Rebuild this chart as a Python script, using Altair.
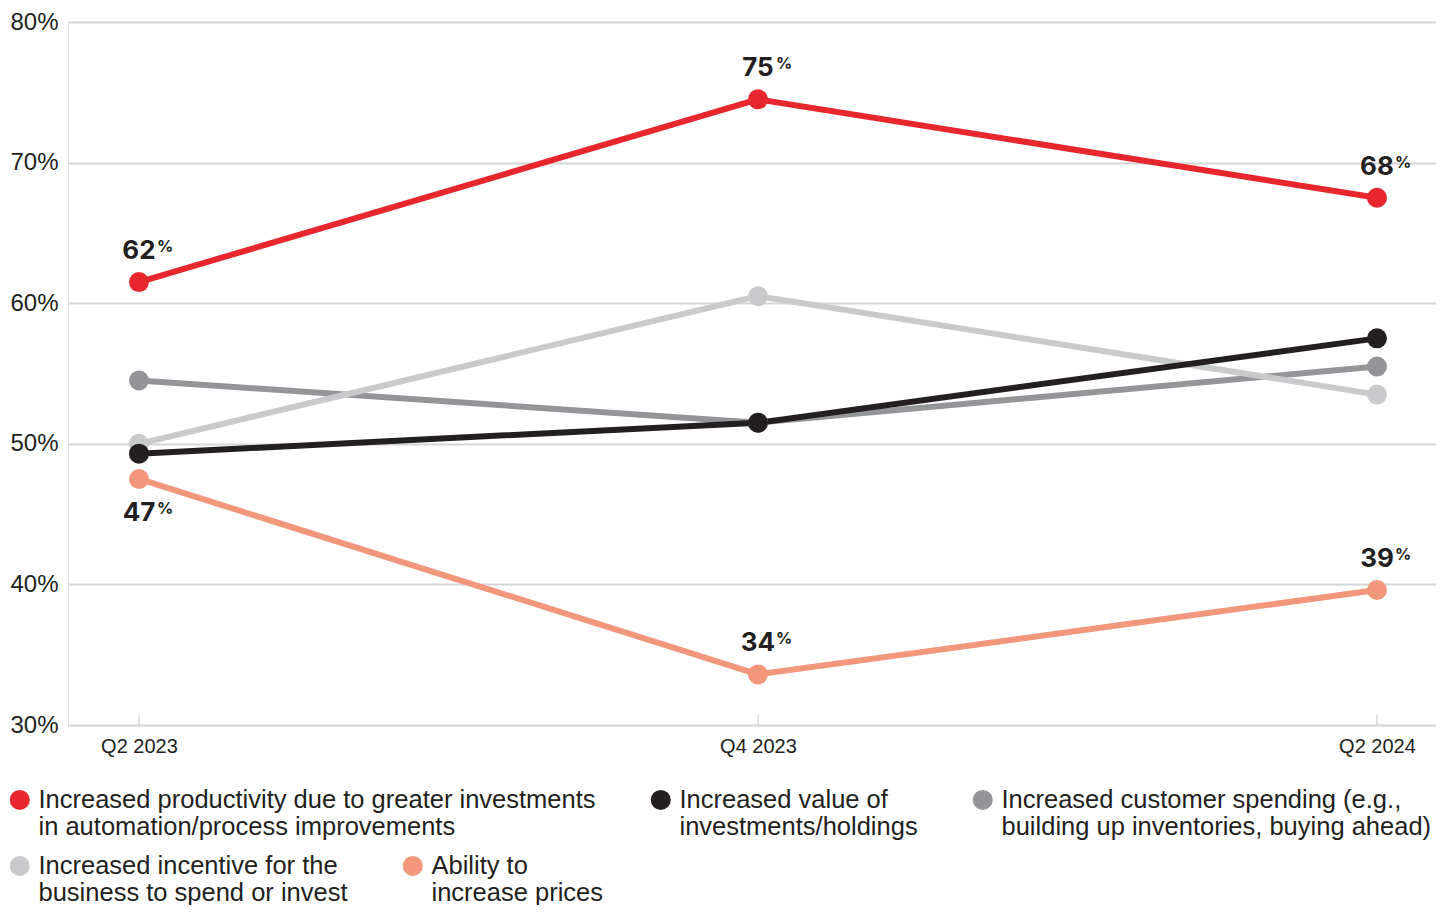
import altair as alt
import pandas as pd

quarters = ["Q2 2023", "Q4 2023", "Q2 2024"]

series = [
    "Increased productivity due to greater investments|in automation/process improvements",
    "Increased value of|investments/holdings",
    "Increased customer spending (e.g.,|building up inventories, buying ahead)",
    "Increased incentive for the|business to spend or invest",
    "Ability to|increase prices",
]
colors = ["#e8262d", "#231f20", "#939598", "#c9cacc", "#f2967c"]

productivity = [61.5, 74.5, 67.5]
value_holdings = [49.3, 51.5, 57.5]
customer_spending = [54.5, 51.5, 55.5]
incentive = [50.0, 60.5, 53.5]
prices = [47.5, 33.6, 39.6]

values_by_series = [productivity, value_holdings, customer_spending, incentive, prices]

# drawing order (back to front)
draw_order = [2, 3, 4, 1, 0]

# point labels
productivity_labels = ["62", "75", "68"]
prices_labels = ["47", "34", "39"]
prices_label_below = [True, False, False]

y_ticks = [30, 40, 50, 60, 70, 80]

rows = []
for i in draw_order:
    for q, v in zip(quarters, values_by_series[i]):
        rows.append({"series": series[i], "quarter": q, "value": v,
                     "rank": draw_order.index(i), "legend_row": 0 if i < 3 else 1})
df = pd.DataFrame(rows)

lab_rows = []
for q, v, t in zip(quarters, productivity, productivity_labels):
    lab_rows.append({"quarter": q, "value": v, "text": t, "below": False})
for q, v, t, b in zip(quarters, prices, prices_labels, prices_label_below):
    lab_rows.append({"quarter": q, "value": v, "text": t, "below": b})
lab = pd.DataFrame(lab_rows)

ticks_df = pd.DataFrame({"quarter": quarters})

FONT = "Liberation Sans"
NARROW = "Liberation Sans Narrow, Arial Narrow, Liberation Sans"

x_scale = alt.Scale(type="point", domain=quarters, padding=0.105, align=0.546)
x_enc = alt.X(
    "quarter:N",
    sort=quarters,
    scale=x_scale,
    axis=alt.Axis(
        title=None, labelAngle=0, labelAlign="center", labelBaseline="top",
        labelFont=FONT, labelFontSize=20, labelColor="#231f20",
        labelPadding=11, ticks=False, domain=False, grid=False,
    ),
)
y_scale = alt.Scale(domain=[30, 80], nice=False, zero=False)
y_enc = alt.Y(
    "value:Q",
    scale=y_scale,
    axis=alt.Axis(
        title=None, values=y_ticks, labelExpr="datum.value + '%'", labelFont=FONT,
        labelFontSize=24, labelColor="#231f20", labelPadding=10, ticks=False, domain=False,
        grid=True, gridColor="#d6d6d6", gridWidth=2,
    ),
)

base = alt.Chart(df)

tick_layer = alt.Chart(ticks_df).mark_rule(color="#d6d6d6", strokeWidth=1.5).encode(
    x=x_enc,
    y=alt.datum(30, scale=y_scale),
    y2=alt.datum(30.7),
)

line_layers = []
for i in draw_order:
    line_layers.append(
        base.transform_filter(alt.datum.series == series[i])
        .mark_line(strokeWidth=6, color=colors[i])
        .encode(x=x_enc, y=y_enc)
    )


def legend_at(y):
    return alt.Legend(
        title=None, orient="none", legendX=-61, legendY=y, direction="horizontal",
        labelExpr="split(datum.label, '|')",
        labelFont=NARROW, labelFontSize=25.5, labelColor="#231f20", labelLimit=1000,
        labelBaseline="middle", symbolType="circle", symbolSize=400, symbolStrokeWidth=0,
        symbolOpacity=1, columnPadding=52, labelOffset=6, padding=0,
    )


points_row1 = base.transform_filter("datum.legend_row == 0").mark_circle(size=400, opacity=1).encode(
    x=x_enc,
    y=y_enc,
    color=alt.Color("series:N", scale=alt.Scale(domain=series[:3], range=colors[:3]),
                    legend=legend_at(765)),
    order=alt.Order("rank:Q"),
)
points_row2 = base.transform_filter("datum.legend_row == 1").mark_circle(size=400, opacity=1).encode(
    x=x_enc,
    y=y_enc,
    color=alt.Color("series:N", scale=alt.Scale(domain=series[3:], range=colors[3:]),
                    legend=legend_at(831)),
    order=alt.Order("rank:Q"),
)

lab_base = alt.Chart(lab)
num_above = lab_base.transform_filter("!datum.below").mark_text(
    font="Inter, Liberation Sans", fontSize=26, fontWeight="bold", color="#231f20",
    align="center", baseline="alphabetic", dy=-23,
).encode(x=x_enc, y=y_enc, text="text:N")
pct_above = lab_base.transform_filter("!datum.below").mark_text(
    font="Inter, Liberation Sans", fontSize=16, fontWeight="bold", color="#231f20",
    align="left", baseline="alphabetic", dx=18, dy=-30, text="%",
).encode(x=x_enc, y=y_enc)
num_below = lab_base.transform_filter("datum.below").mark_text(
    font="Inter, Liberation Sans", fontSize=26, fontWeight="bold", color="#231f20",
    align="center", baseline="alphabetic", dy=42,
).encode(x=x_enc, y=y_enc, text="text:N")
pct_below = lab_base.transform_filter("datum.below").mark_text(
    font="Inter, Liberation Sans", fontSize=16, fontWeight="bold", color="#231f20",
    align="left", baseline="alphabetic", dx=18, dy=35, text="%",
).encode(x=x_enc, y=y_enc)

chart = alt.layer(
    tick_layer, *line_layers, points_row2, points_row1,
    num_above, pct_above, num_below, pct_below
).resolve_scale(color="independent").properties(
    width=1368, height=703,
    autosize=alt.AutoSizeParams(type="none"),
    padding={"left": 60, "top": 14, "right": 0, "bottom": 180},
).configure_view(stroke=None).configure(background="white")

chart.save("out.html", embed_options={"renderer": "svg", "actions": False})
